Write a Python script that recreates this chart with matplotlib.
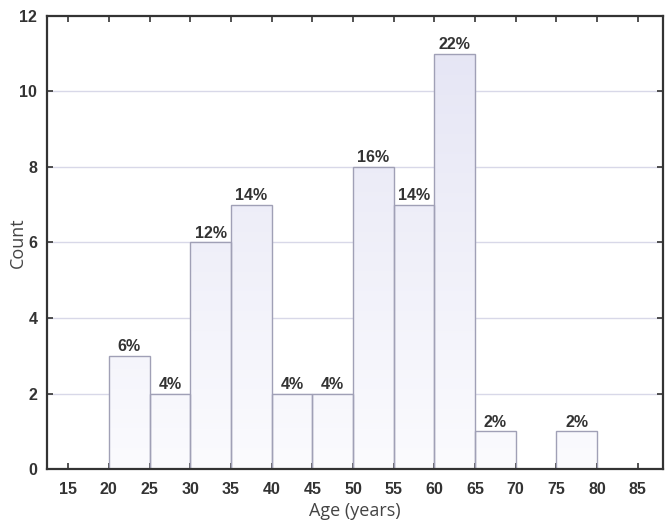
import matplotlib
matplotlib.use("Agg")
import matplotlib.pyplot as plt
import numpy as np
from matplotlib.colors import LinearSegmentedColormap
from matplotlib import font_manager

bin_left = [15, 20, 25, 30, 35, 40, 45, 50, 55, 60, 65, 70, 75]
counts = [0, 3, 2, 6, 7, 2, 2, 8, 7, 11, 1, 0, 1]
pct_labels = ["", "6%", "4%", "12%", "14%", "4%", "4%", "16%", "14%", "22%", "2%", "", "2%"]
xticks = [15, 20, 25, 30, 35, 40, 45, 50, 55, 60, 65, 70, 75, 80, 85]
yticks = [0, 2, 4, 6, 8, 10, 12]
width = 5

names = {f.name for f in font_manager.fontManager.ttflist}
tick_font = ["Liberation Sans Narrow", "Liberation Sans"] if "Liberation Sans Narrow" in names else ["Liberation Sans"]

fig = plt.figure(figsize=(6.68, 5.21), dpi=100)
ax = fig.add_axes([0.0704, 0.0998, 0.9925 - 0.0704, 0.9693 - 0.0998])
ax.set_xlim(12.4, 88.1)
ax.set_ylim(0, 12)

for y in yticks[1:-1]:
    ax.axhline(y, color="#d8d8e8", lw=1.0, zorder=0)

cmap = LinearSegmentedColormap.from_list("g", ["#fbfbfe", "#e4e4f4"])
grad = np.linspace(0, 1, 256).reshape(-1, 1)
for x0, c, lab in zip(bin_left, counts, pct_labels):
    if c == 0:
        continue
    im = ax.imshow(grad, cmap=cmap, origin="lower", aspect="auto",
                   extent=[x0, x0 + width, 0, 12], zorder=1)
    rect = plt.Rectangle((x0, 0), width, c, facecolor="none",
                         edgecolor="#a0a0b6", lw=1.0, zorder=2)
    ax.add_patch(rect)
    im.set_clip_path(rect)
    ax.text(x0 + width / 2, c + 0.04, lab, ha="center", va="bottom",
            fontsize=11.5, fontweight="bold", color="#333333",
            family=tick_font)

ax.set_xticks(xticks)
ax.set_yticks(yticks)
for lbl in ax.get_xticklabels() + ax.get_yticklabels():
    lbl.set_family(tick_font)
    lbl.set_fontweight("bold")
ax.tick_params(direction="in", length=4, width=1.2, labelsize=11.5,
               labelcolor="#333333", color="#333333",
               top=True, right=True, pad=7)
ax.tick_params(axis="x", pad=9)
for s in ax.spines.values():
    s.set_color("#333333")
    s.set_linewidth(1.6)

ax.set_xlabel("Age (years)", fontsize=13, color="#444444", family="Open Sans")
ax.xaxis.set_label_coords(0.5, -0.072)
ax.set_ylabel("Count", fontsize=13, color="#444444", family="Open Sans")
ax.yaxis.set_label_coords(-0.033, 0.5)

fig.savefig("out.png", dpi=100)
